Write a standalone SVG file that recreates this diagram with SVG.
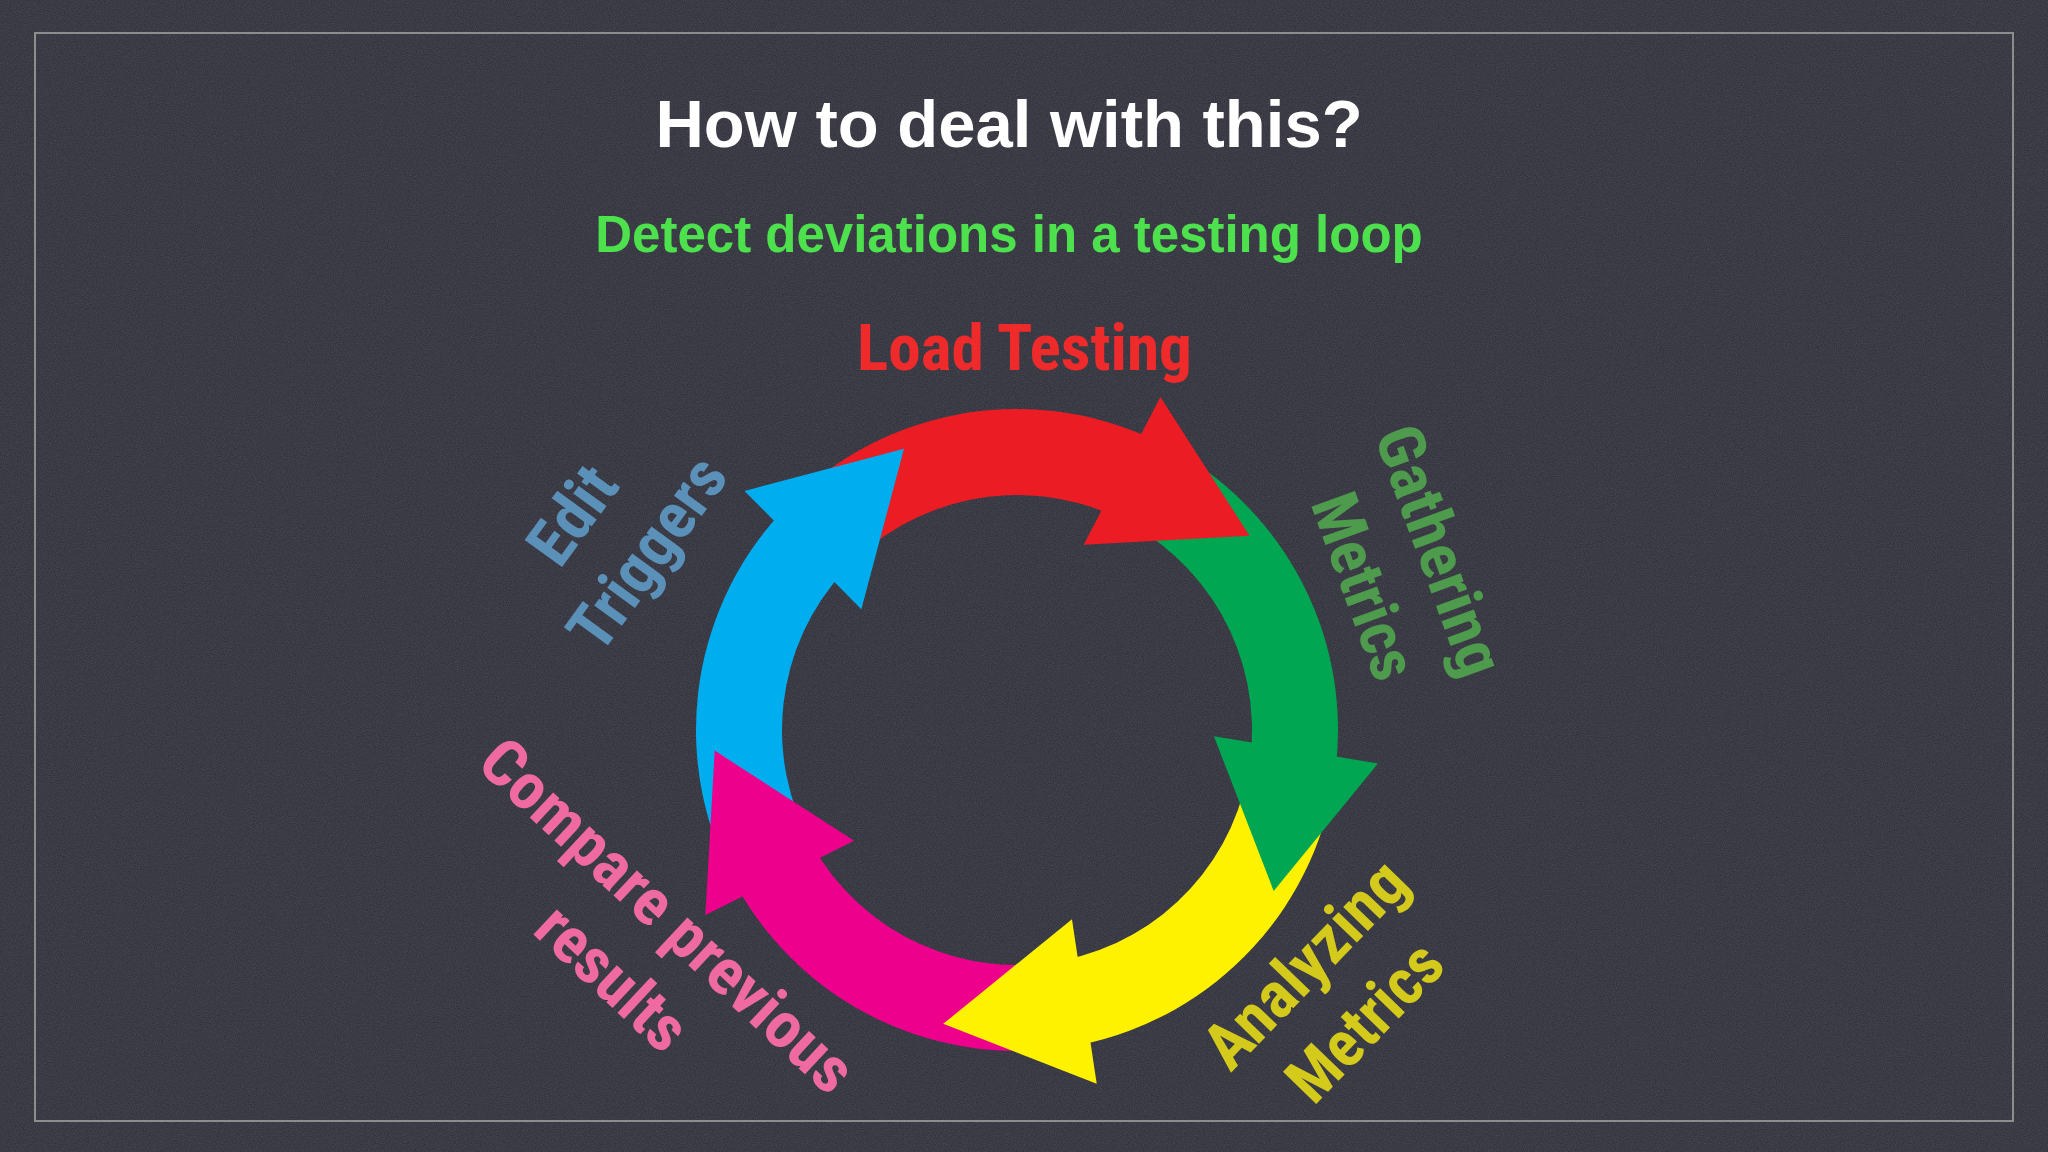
<svg xmlns="http://www.w3.org/2000/svg" width="2048" height="1152" viewBox="0 0 2048 1152">
<defs>
<style>
.bg{fill:#31313c}
.grain{fill:#000}
.frame{fill:none;stroke:#8d8d8d;stroke-width:2}
.title{font-family:"Liberation Sans",Arial,Helvetica,sans-serif;font-weight:bold;font-size:67px;fill:#ffffff}
.sub{font-family:"Liberation Sans",Arial,Helvetica,sans-serif;font-weight:bold;font-size:51px;fill:#4de24d}
.lbl{font-family:"Liberation Sans Narrow","Roboto Condensed","Liberation Sans",Arial,sans-serif;font-weight:bold;font-size:65px}
.red{fill:#ec1c24}
.green{fill:#00a651}
.yellow{fill:#fff200}
.magenta{fill:#ec008c}
.blue{fill:#00aeef}
</style>
<filter id="grainf" x="0" y="0" width="100%" height="100%" color-interpolation-filters="sRGB">
<feTurbulence type="fractalNoise" baseFrequency="0.85" numOctaves="2" seed="7"/>
<feColorMatrix type="matrix" values="1 0 0 0 0  1 0 0 0 0  1 0 0 0 0.04  0 0 0 0 0.13"/>
</filter>
</defs>

<rect class="bg" x="0" y="0" width="2048" height="1152"/>
<rect class="grain" x="0" y="0" width="2048" height="1152" filter="url(#grainf)"/>
<rect class="frame" x="35" y="33" width="1978" height="1088"/>

<g id="title">
<text class="title" x="1009" y="147" text-anchor="middle">How to deal with this?</text>
</g>
<g id="subtitle">
<text class="sub" x="1009" y="252" text-anchor="middle">Detect deviations in a testing loop</text>
</g>

<g id="cycle-connectors">
<g id="arrow-bands">
<path id="band-blue" class="blue" d="M737.61 888.07 A321 321 0 0 1 780.33 513.14 L843.74 571.24 A235 235 0 0 0 812.47 845.72 Z"/>
<path id="band-red" class="red" d="M780.33 513.14 A321 321 0 0 1 1150.12 437.90 L1114.45 516.16 A235 235 0 0 0 843.74 571.24 Z"/>
<path id="band-green" class="green" d="M1150.12 437.90 A321 321 0 0 1 1335.94 766.34 L1250.49 756.60 A235 235 0 0 0 1114.45 516.16 Z"/>
<path id="band-yellow" class="yellow" d="M1335.94 766.34 A321 321 0 0 1 1081.00 1044.55 L1063.85 960.28 A235 235 0 0 0 1250.49 756.60 Z"/>
<path id="band-magenta" class="magenta" d="M1081.00 1044.55 A321 321 0 0 1 737.61 888.07 L812.47 845.72 A235 235 0 0 0 1063.85 960.28 Z"/>
</g>
<g id="arrow-heads">
<polygon id="head-blue" class="blue" points="744.53,490.91 903.98,448.86 861.34,609.26"/>
<polygon id="head-red" class="red" points="1160.39,397.06 1249.45,535.64 1083.73,544.65"/>
<polygon id="head-green" class="green" points="1377.95,763.48 1273.70,890.98 1213.90,736.19"/>
<polygon id="head-yellow" class="yellow" points="1096.70,1083.63 943.18,1023.87 1071.96,919.18"/>
<polygon id="head-magenta" class="magenta" points="705.36,915.07 714.70,750.61 854.07,840.73"/>
</g>
</g>

<g id="step-load-testing">
<text class="lbl" x="857" y="370" fill="#ef2a2a" textLength="335" lengthAdjust="spacingAndGlyphs">Load Testing</text>
</g>

<g id="step-gathering-metrics" transform="translate(1403,568) rotate(70)" fill="#4e9b4e">
<text class="lbl" x="-4" y="-18" text-anchor="middle" textLength="261" lengthAdjust="spacingAndGlyphs">Gathering</text>
<text class="lbl" x="4" y="65" text-anchor="middle" textLength="193" lengthAdjust="spacingAndGlyphs">Metrics</text>
</g>

<g id="step-analyzing-metrics" transform="translate(1334,992) rotate(-46)" fill="#d4ca1c">
<text class="lbl" x="0" y="-18" text-anchor="middle" textLength="261" lengthAdjust="spacingAndGlyphs">Analyzing</text>
<text class="lbl" x="0" y="65" text-anchor="middle" textLength="193" lengthAdjust="spacingAndGlyphs">Metrics</text>
</g>

<g id="step-compare-previous-results" transform="translate(640,945) rotate(43)" fill="#f06aa2">
<text class="lbl" x="0" y="-18" text-anchor="middle" textLength="485" lengthAdjust="spacingAndGlyphs">Compare previous</text>
<text class="lbl" x="2" y="65" text-anchor="middle" textLength="181" lengthAdjust="spacingAndGlyphs">results</text>
</g>

<g id="step-edit-triggers" transform="translate(609,533) rotate(-54)" fill="#5b90b8">
<text class="lbl" x="-7" y="-18" text-anchor="middle" textLength="104" lengthAdjust="spacingAndGlyphs">Edit</text>
<text class="lbl" x="6" y="65" text-anchor="middle" textLength="221" lengthAdjust="spacingAndGlyphs">Triggers</text>
</g>
</svg>
